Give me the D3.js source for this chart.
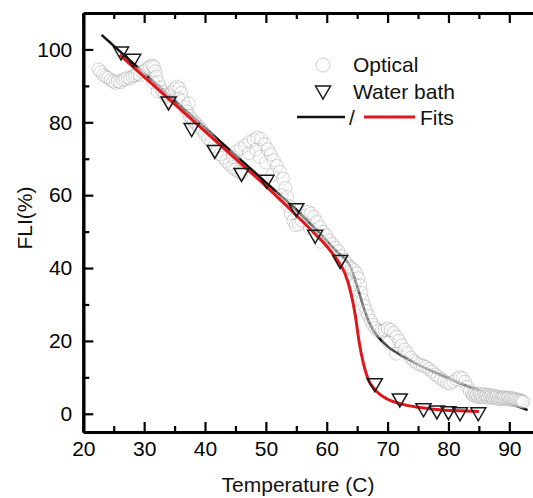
<!DOCTYPE html>
<html><head><meta charset="utf-8">
<script src="https://cdn.jsdelivr.net/npm/d3@7"></script>
<style>
body{margin:0;background:#fff;}
svg{display:block;font-family:"Liberation Sans",Arial,sans-serif;}
</style></head>
<body>
<svg id="chart" width="533" height="498"></svg>
<script>
// ---- data ----
const xTicks = [20,30,40,50,60,70,80,90];
const yTicks = [0,20,40,60,80,100];
const xMinorTicks = [25,35,45,55,65,75,85];
const yMinorTicks = [10,30,50,70,90];

// Water bath measurements [T, FLI]
const waterBath = [[26.2,99],[28.2,97],[34,85.3],[37.8,78],[41.6,72],[46,65.7],[50.1,63.8],[55,56],[58.1,48.7],[62.2,41.8],[67.9,8],[72,3.8],[75.9,1.1],[78.1,0.5],[80,0.3],[81.9,0],[84.9,0]];

// Optical measurements [T, FLI]
const optical = [
[22.5,94.5],[22.9,93.8],[23.3,93],[23.7,92.5],[24.1,92.2],[24.5,91.6],[24.9,91.2],[25.3,90.8],[25.7,91.3],[26.1,91.0],[26.5,91.6],[26.9,91.9],[27.3,92.3],[27.7,92.0],[28.1,92.6],[28.5,92.9],[28.9,93.3],[29.3,93.0],[29.7,93.8],
[30.1,94.2],[30.5,94.8],[30.9,95.3],[31.3,95.6],[31.6,95.2],[31.8,94.0],[32.0,92.5],[31.5,91.0],[32.3,91.0],[32.6,89.6],[32.2,88.5],[33.0,88.4],[33.4,87.5],[33.8,87.0],
[34.2,87.4],[34.6,88.3],[35.0,89.2],[35.4,89.8],[35.8,89.3],[36.1,88.0],[35.6,86.5],[36.4,86.0],[36.7,84.2],[37.3,85.2],[37.0,83.0],[37.4,81.8],[37.8,80.9],[38.2,80.2],[38.6,79.5],[39.0,78.8],[39.5,77.9],[40.0,76.8],[40.5,75.6],[41.0,74.6],[41.5,73.4],[42.0,72.3],[42.5,71.2],[43.0,70.3],[43.5,69.4],[44.0,68.5],[44.5,67.7],[45.0,67.0],[45.5,66.4],[46.0,66.1],
[44.6,70.5],[45.2,72.0],[45.9,72.8],[46.6,73.6],[47.3,74.6],[47.2,71.5],[48.0,75.2],[48.6,75.8],[48.4,72.5],[49.2,75.4],[49.0,70.5],[49.8,74.0],[50.3,72.6],[50.0,69.0],[50.8,71.2],[51.3,69.6],[51.8,68.0],[51.0,65.5],[52.3,66.4],[52.8,64.5],[53.2,62.0],[52.6,60.0],[53.5,59.5],[53.8,57.0],[54.1,55.0],[54.5,53.0],[54.9,51.8],
[55.4,52.0],[55.9,53.0],[56.4,54.4],[56.9,55.4],[57.4,55.0],[57.9,54.0],[57.2,51.0],[58.4,52.6],[58.9,51.2],[59.4,50.0],[59.9,49.0],[59.0,47.2],[60.4,47.6],[60.9,46.6],[61.4,45.6],[61.9,44.6],[62.4,43.3],[62.9,42.2],[63.3,41.2],[63.7,40.4],[64.1,39.9],[64.5,39.4],[64.9,38.6],[65.2,37.2],[64.6,35.5],[65.5,35.2],[65.7,33.2],[65.9,31.2],[66.2,29.6],[66.5,28.2],[66.8,27.0],[67.2,25.6],[67.6,24.4],[68.0,23.5],[68.5,22.8],[69.0,22.6],[69.5,23.0],[70.0,23.4],[70.5,23.0],[71.0,22.2],[70.2,19.5],[71.5,21.2],[71.9,20.0],[72.3,18.8],[71.4,16.5],[72.8,17.6],[73.3,16.6],[73.8,15.4],[74.3,14.5],[74.8,13.9],[75.3,13.5],[75.8,13.2],[76.3,12.9],[76.8,12.3],[77.3,11.6],[77.8,10.8],[78.3,10.2],[78.8,9.6],[79.3,9.0],[79.8,8.5],[80.3,8.3],[80.8,8.8],[81.3,9.5],[81.8,10.0],[82.3,9.8],[82.7,8.8],[83.1,7.4],[83.5,6.2],[83.9,5.5],
[84.1,5.0],[84.3,5.6],[84.5,4.8],[84.7,5.3],[84.9,4.6],[85.1,5.5],[85.3,4.7],[85.5,5.2],[85.7,4.5],[85.9,5.4],[86.1,4.8],[86.3,5.1],[86.5,4.4],[86.7,5.2],[86.9,4.6],[87.1,5.0],[87.3,4.3],[87.5,4.9],[87.7,4.4],[87.9,4.8],[88.1,4.1],[88.3,4.6],[88.5,4.0],[88.7,4.4],[88.9,4.2],[89.1,4.6],[89.3,4.0],[89.5,4.4],[89.7,4.1],[89.9,4.5],[90.1,3.9],[90.3,4.3],[90.5,3.8],[90.7,4.2],[90.9,3.7],[91.1,4.0],[91.3,3.6],[91.5,3.9],[91.7,3.5],[91.9,3.7],[92.1,3.4],[92.3,3.3]
];

// Fit curves [T, FLI]
const blackFit = [[23,104],[30,93.5],[35,86],[40,78.5],[45,71],[50,63.5],[55,56],[58,51],[60,47.5],[62,44],[63,42.5],[64,40],[65,35],[66,29.5],[67,25],[68.5,21],[70,18.5],[72.5,15.8],[75,13.5],[78,11.2],[81,9],[84,7],[87,5],[90,3],[93,1]];
const redFit = [[26,98.5],[30,92.5],[35,85],[40,77.5],[45,70],[50,62.5],[55,54.5],[58,49.5],[60,46],[62,41.5],[63,38.5],[64,33],[64.7,27],[65.3,20],[66,14],[66.8,9.5],[68,6.5],[70,4],[72,2.8],[75,1.8],[78,1.2],[82,0.8],[85,0.6]];

const legendLabels = ["Optical","Water bath","Fits"];
const xTitle = "Temperature (C)";
const yTitle = "FLI(%)";

// ---- chart ----
const svg = d3.select("#chart");
const x = d3.scaleLinear().domain([20,94.5]).range([83.3,536.7]);
const y = d3.scaleLinear().domain([-5,110]).range([432,13]);
const FS = 21;

const tri = (cx,cy,s=1) => `M${cx-7.5*s},${cy-6*s}L${cx+7.5*s},${cy-6*s}L${cx},${cy+7*s}Z`;

// black fit under circles
const line = d3.line().x(d=>x(d[0])).y(d=>y(d[1])).curve(d3.curveMonotoneX);
svg.append("path").attr("d",line(blackFit)).attr("fill","none").attr("stroke","#111").attr("stroke-width",2.6);

// optical circles
svg.append("g").selectAll("circle").data(optical).join("circle")
  .attr("cx",d=>x(d[0])).attr("cy",d=>y(d[1])).attr("r",6.5)
  .attr("fill","#fff").attr("fill-opacity",0.25)
  .attr("stroke","#a0a0a0").attr("stroke-opacity",0.45).attr("stroke-width",1);

// red fit
svg.append("path").attr("d",line(redFit)).attr("fill","none").attr("stroke","#e0161b").attr("stroke-width",3);

// water bath triangles
svg.append("g").selectAll("path").data(waterBath).join("path")
  .attr("d",d=>tri(x(d[0]),y(d[1])))
  .attr("fill","none").attr("stroke","#1a1a1a").attr("stroke-width",1.5);

// axes
function styleAxis(g){
  g.selectAll("path.domain").attr("stroke","#000").attr("stroke-width",3);
  g.selectAll(".tick line").attr("stroke","#000").attr("stroke-width",2.2);
  g.selectAll(".tick text").attr("font-size",FS).attr("fill","#000").attr("font-family","Liberation Sans, Arial, sans-serif");
}
svg.append("g").attr("transform",`translate(0,${y(-5)})`)
  .call(d3.axisBottom(x).tickValues(xMinorTicks).tickSize(-6).tickSizeOuter(0).tickFormat(""))
  .call(styleAxis);
svg.append("g").attr("transform",`translate(0,${y(-5)})`)
  .call(d3.axisBottom(x).tickValues(xTicks).tickSize(-10).tickSizeOuter(0).tickPadding(9).tickFormat(d3.format("d")))
  .call(styleAxis);
svg.append("g").attr("transform",`translate(0,${y(110)})`)
  .call(d3.axisTop(x).tickValues(xMinorTicks).tickSize(-6).tickSizeOuter(0).tickFormat(""))
  .call(styleAxis);
svg.append("g").attr("transform",`translate(0,${y(110)})`)
  .call(d3.axisTop(x).tickValues(xTicks).tickSize(-10).tickSizeOuter(0).tickFormat(""))
  .call(styleAxis);
svg.append("g").attr("transform",`translate(${x(20)},0)`)
  .call(d3.axisLeft(y).tickValues(yMinorTicks).tickSize(-6).tickSizeOuter(0).tickFormat(""))
  .call(styleAxis);
svg.append("g").attr("transform",`translate(${x(20)},0)`)
  .call(d3.axisLeft(y).tickValues(yTicks).tickSize(-10).tickSizeOuter(0).tickPadding(11).tickFormat(d3.format("d")))
  .call(styleAxis);

// axis titles
svg.append("text").attr("x",298).attr("y",492).attr("text-anchor","middle")
  .attr("font-size",FS).attr("fill","#111").text(xTitle);
svg.append("text").attr("transform","translate(32,218) rotate(-90)").attr("text-anchor","middle")
  .attr("font-size",FS).attr("fill","#111").text(yTitle);

// legend
const lg = svg.append("g");
lg.append("circle").attr("cx",323).attr("cy",65).attr("r",7).attr("fill","none").attr("stroke","#ccc").attr("stroke-width",1);
lg.append("path").attr("d",tri(323,92)).attr("fill","none").attr("stroke","#1a1a1a").attr("stroke-width",1.5);
lg.append("line").attr("x1",297).attr("x2",345).attr("y1",117).attr("y2",117).attr("stroke","#111").attr("stroke-width",2.6);
lg.append("text").attr("x",349).attr("y",125).attr("font-size",FS).attr("fill","#111").text("/");
lg.append("line").attr("x1",364).attr("x2",415).attr("y1",117).attr("y2",117).attr("stroke","#e0161b").attr("stroke-width",3);
const legY = [72,99,125], legX = [353,353,420];
legendLabels.forEach((t,i)=>{
  lg.append("text").attr("x",legX[i]).attr("y",legY[i]).attr("font-size",FS).attr("fill","#111").text(t);
});
</script>
</body></html>
